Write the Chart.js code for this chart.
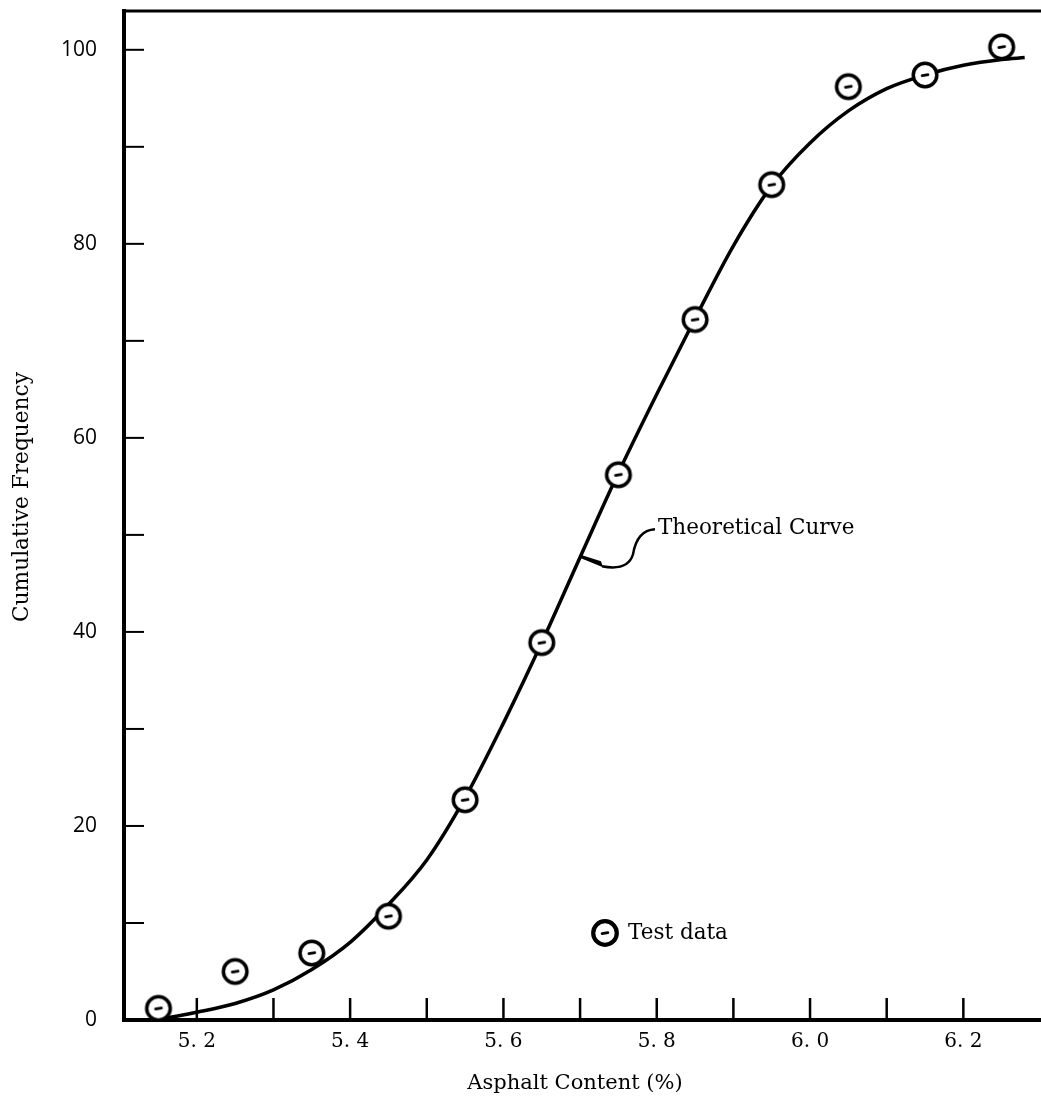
<!DOCTYPE html>
<html><head><meta charset="utf-8">
<script src="https://cdn.jsdelivr.net/npm/chart.js@4.4.0/dist/chart.umd.min.js"></script>
<style>html,body{margin:0;padding:0;background:#fff}canvas{display:block}</style>
</head><body>
<canvas id="c" width="1041" height="1106"></canvas>
<script>
// ---- data ----
const TEST_X = [5.15, 5.25, 5.35, 5.45, 5.55, 5.65, 5.75, 5.85, 5.95, 6.05, 6.15, 6.25];
const TEST_Y = [1.2, 5.0, 6.9, 10.7, 22.7, 38.9, 56.2, 72.2, 86.1, 96.2, 97.4, 100.3];
const CURVE_X = [5.16, 5.2, 5.25, 5.3, 5.35, 5.4, 5.45, 5.5, 5.55, 5.6, 5.65, 5.7, 5.75, 5.8, 5.85, 5.9, 5.95, 6.0, 6.05, 6.1, 6.15, 6.2, 6.25, 6.28];
const CURVE_Y = [0.2, 0.8, 1.7, 3.1, 5.2, 8.0, 11.9, 16.5, 22.9, 30.6, 38.9, 47.7, 56.4, 64.5, 72.3, 79.8, 86.0, 90.4, 93.7, 96.0, 97.4, 98.4, 99.0, 99.2];
const X_TICKS = [5.2, 5.3, 5.4, 5.5, 5.6, 5.7, 5.8, 5.9, 6.0, 6.1, 6.2];
const X_LABELS = ['5. 2', '', '5. 4', '', '5. 6', '', '5. 8', '', '6. 0', '', '6. 2'];
const Y_TICKS = [0, 10, 20, 30, 40, 50, 60, 70, 80, 90, 100];
const Y_LABELS = ['0', '', '20', '', '40', '', '60', '', '80', '', '100'];
const X_RANGE = [5.105, 6.3];
const Y_RANGE = [0, 104];
const X_TITLE = 'Asphalt Content (%)';
const Y_TITLE = 'Cumulative Frequency';
const CURVE_NOTE = 'Theoretical Curve';
const CURVE_NOTE_AT = [5.7025, 47.8];
const LEGEND_TEXT = 'Test data';
const LEGEND_AT = [5.7325, 8.97];

// ---- marker: circle with small dash ----
function makeMarker(lw) {
  const c = document.createElement('canvas');
  c.width = 32; c.height = 32;
  const g = c.getContext('2d');
  g.beginPath(); g.arc(16, 16, 11.8, 0, Math.PI * 2);
  g.fillStyle = '#fff'; g.fill();
  g.lineWidth = lw; g.strokeStyle = '#000'; g.stroke();
  g.beginPath(); g.moveTo(13, 16.6); g.lineTo(19, 15.6);
  g.lineWidth = 2.6; g.lineCap = 'round'; g.stroke();
  return c;
}
const MARKER = makeMarker(3.5);
const LEGEND_MARKER = makeMarker(4.2);

const serif = '"DejaVu Serif", serif';

function noPad(s) { s.paddingLeft = 0; s.paddingRight = 0; s.paddingTop = 0; s.paddingBottom = 0; }

const decor = {
  id: 'decor',
  afterDraw(chart) {
    const ctx = chart.ctx, a = chart.chartArea;
    const xs = chart.scales.x, ys = chart.scales.y;
    ctx.save();
    ctx.strokeStyle = '#000'; ctx.fillStyle = '#000';
    // inner tick marks
    ctx.lineWidth = 2.5;
    X_TICKS.forEach(v => {
      const px = xs.getPixelForValue(v);
      ctx.beginPath(); ctx.moveTo(px, a.bottom); ctx.lineTo(px, a.bottom - 22); ctx.stroke();
    });
    ctx.lineWidth = 2;
    Y_TICKS.forEach(v => {
      const py = ys.getPixelForValue(v);
      ctx.beginPath(); ctx.moveTo(a.left, py); ctx.lineTo(a.left + 20, py); ctx.stroke();
    });
    // top border
    ctx.lineWidth = 3;
    ctx.beginPath(); ctx.moveTo(a.left - 2, a.top); ctx.lineTo(chart.width, a.top); ctx.stroke();
    // axis titles
    ctx.font = '21px ' + serif;
    ctx.textAlign = 'center'; ctx.textBaseline = 'middle';
    ctx.fillText(X_TITLE, 575, 1084);
    ctx.save();
    ctx.translate(22, 497); ctx.rotate(-Math.PI / 2);
    ctx.font = '21.7px ' + serif;
    ctx.fillText(Y_TITLE, 0, 0);
    ctx.restore();
    // curve annotation
    const tx = xs.getPixelForValue(CURVE_NOTE_AT[0]);
    const ty = ys.getPixelForValue(CURVE_NOTE_AT[1]);
    ctx.beginPath();
    ctx.moveTo(tx, ty - 1); ctx.lineTo(tx + 19, ty + 5); ctx.lineTo(tx + 21, ty + 11); ctx.lineTo(tx - 1, ty + 2);
    ctx.closePath(); ctx.fill();
    ctx.lineWidth = 2.5;
    ctx.beginPath();
    ctx.moveTo(tx + 20, ty + 10);
    ctx.quadraticCurveTo(tx + 46, ty + 15, tx + 51, ty - 2);
    ctx.quadraticCurveTo(tx + 55, ty - 26, tx + 73, ty - 27);
    ctx.stroke();
    ctx.font = '21.5px ' + serif;
    ctx.textAlign = 'left'; ctx.textBaseline = 'middle';
    ctx.fillText(CURVE_NOTE, tx + 76, ty - 28);
    // legend
    const lx = xs.getPixelForValue(LEGEND_AT[0]);
    const ly = ys.getPixelForValue(LEGEND_AT[1]);
    ctx.drawImage(LEGEND_MARKER, lx - 16, ly - 16);
    ctx.font = '21.5px ' + serif;
    ctx.fillText(LEGEND_TEXT, lx + 23, ly);
    ctx.restore();
  }
};

new Chart(document.getElementById('c'), {
  type: 'scatter',
  data: {
    datasets: [
      {
        label: 'Test data',
        data: TEST_X.map((x, i) => ({ x, y: TEST_Y[i] })),
        pointStyle: MARKER,
        pointRadius: 13,
        order: 0
      },
      {
        label: 'Theoretical Curve',
        data: CURVE_X.map((x, i) => ({ x, y: CURVE_Y[i] })),
        showLine: true,
        borderColor: '#000',
        borderWidth: 3.5,
        pointRadius: 0,
        cubicInterpolationMode: 'monotone',
        order: 1
      }
    ]
  },
  options: {
    responsive: false,
    animation: false,
    devicePixelRatio: 1,
    layout: { autoPadding: false, padding: { top: 11, right: 1, left: 0, bottom: 0 } },
    plugins: { legend: { display: false }, tooltip: { enabled: false } },
    scales: {
      x: {
        type: 'linear', min: X_RANGE[0], max: X_RANGE[1],
        afterBuildTicks: s => { s.ticks = X_TICKS.map(v => ({ value: v })); },
        afterFit: s => { s.height = 86; noPad(s); },
        grid: { display: true, drawOnChartArea: false, drawTicks: false },
        border: { display: true, color: '#000', width: 4 },
        ticks: {
          autoSkip: false, maxRotation: 0, padding: 10, color: '#000',
          font: { family: '"DejaVu Serif", serif', size: 20 },
          callback: (v, i) => X_LABELS[i]
        }
      },
      y: {
        type: 'linear', min: Y_RANGE[0], max: Y_RANGE[1],
        afterBuildTicks: s => { s.ticks = Y_TICKS.map(v => ({ value: v })); },
        afterFit: s => { s.width = 124; noPad(s); },
        grid: { display: true, drawOnChartArea: false, drawTicks: false },
        border: { display: true, color: '#000', width: 4 },
        ticks: {
          autoSkip: false, padding: 27, color: '#000',
          font: { family: '"Open Sans", sans-serif', size: 21 },
          callback: (v, i) => Y_LABELS[i]
        }
      }
    }
  },
  plugins: [decor]
});
</script>
</body></html>
